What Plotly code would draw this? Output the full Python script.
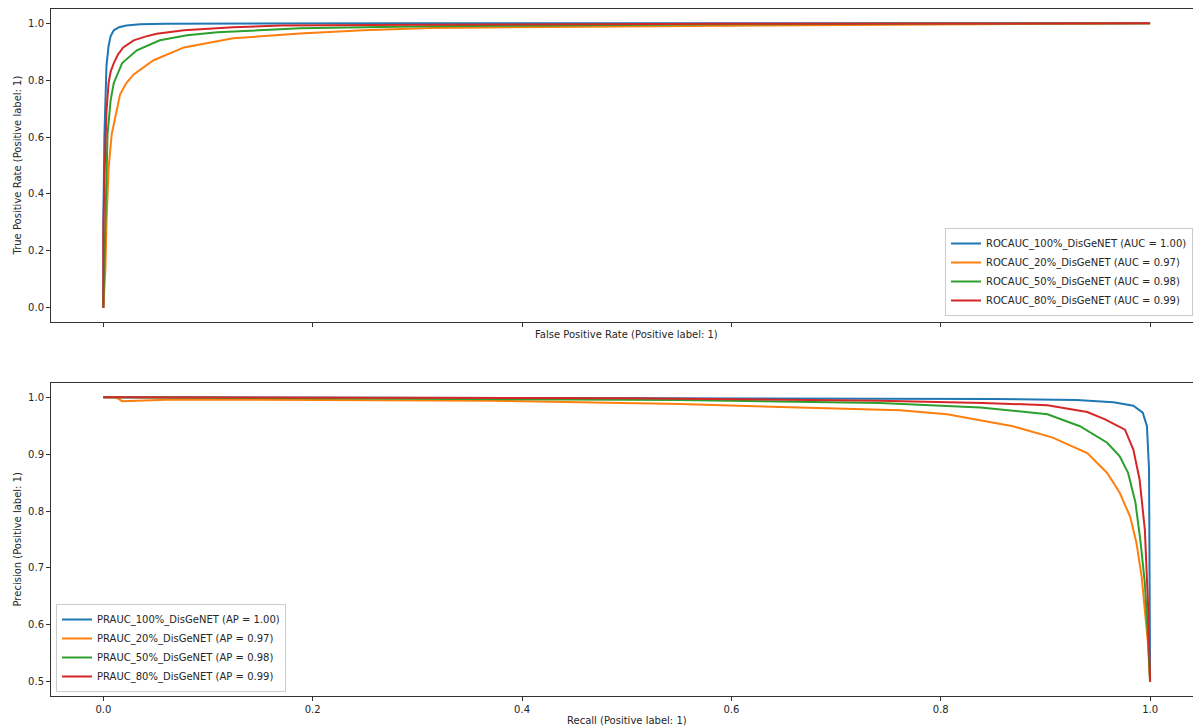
import plotly.graph_objects as go

# ---- ROC curves (false positive rate, true positive rate) ----
roc_100_fpr = [0, 0, 0.001, 0.002, 0.003, 0.005, 0.007, 0.010, 0.015, 0.022, 0.035, 0.06, 0.12, 0.3, 1.0]
roc_100_tpr = [0, 0.30, 0.60, 0.75, 0.85, 0.92, 0.955, 0.975, 0.986, 0.992, 0.996, 0.998, 0.999, 1.0, 1.0]

roc_20_fpr = [0, 0.002, 0.003, 0.004, 0.005, 0.008, 0.016, 0.022, 0.029, 0.048, 0.077, 0.124, 0.188,
              0.248, 0.312, 0.424, 0.551, 0.7, 0.85, 1.0]
roc_20_tpr = [0, 0.14, 0.30, 0.377, 0.49, 0.61, 0.75, 0.79, 0.82, 0.87, 0.915, 0.947, 0.964,
              0.975, 0.983, 0.987, 0.990, 0.995, 0.998, 1.0]

roc_50_fpr = [0, 0.001, 0.003, 0.004, 0.007, 0.010, 0.018, 0.032, 0.054, 0.08, 0.109, 0.188, 0.31,
              0.45, 0.6, 0.8, 1.0]
roc_50_tpr = [0, 0.15, 0.377, 0.61, 0.73, 0.79, 0.86, 0.905, 0.94, 0.958, 0.968, 0.982, 0.989,
              0.993, 0.996, 0.999, 1.0]

roc_80_fpr = [0, 0, 0.001, 0.003, 0.005, 0.007, 0.010, 0.014, 0.019, 0.029, 0.04, 0.051, 0.077,
              0.124, 0.17, 0.3, 0.6, 1.0]
roc_80_tpr = [0, 0.26, 0.45, 0.69, 0.79, 0.83, 0.86, 0.89, 0.915, 0.94, 0.953, 0.963, 0.975,
              0.986, 0.992, 0.995, 0.998, 1.0]

# ---- Precision-recall curves (recall, precision) ----
pr_100_rec = [0, 0.3, 0.6, 0.85, 0.93, 0.965, 0.984, 0.993, 0.997, 0.999, 1.0]
pr_100_prec = [1.0, 0.999, 0.998, 0.997, 0.995, 0.991, 0.985, 0.973, 0.949, 0.873, 0.5]

pr_20_rec = [0, 0.012, 0.018, 0.067, 0.21, 0.37, 0.551, 0.678, 0.761, 0.806, 0.869, 0.907, 0.94,
             0.959, 0.971, 0.981, 0.987, 0.992, 0.995, 0.998, 1.0]
pr_20_prec = [1.0, 1.0, 0.993, 0.996, 0.995, 0.994, 0.988, 0.981, 0.977, 0.970, 0.949, 0.929, 0.902,
              0.867, 0.832, 0.790, 0.744, 0.684, 0.625, 0.567, 0.5]

pr_50_rec = [0, 0.2, 0.4, 0.55, 0.742, 0.838, 0.902, 0.933, 0.959, 0.971, 0.979, 0.986, 0.991,
             0.995, 0.998, 1.0]
pr_50_prec = [1.0, 0.998, 0.996, 0.995, 0.990, 0.982, 0.970, 0.949, 0.920, 0.896, 0.867, 0.815, 0.744,
              0.673, 0.578, 0.5]

pr_80_rec = [0, 0.3, 0.5, 0.742, 0.84, 0.902, 0.94, 0.957, 0.976, 0.984, 0.99, 0.995, 0.998, 1.0]
pr_80_prec = [1.0, 0.999, 0.998, 0.994, 0.990, 0.986, 0.974, 0.961, 0.943, 0.908, 0.855, 0.767, 0.637, 0.5]

roc_names = ["ROCAUC_100%_DisGeNET (AUC = 1.00)", "ROCAUC_20%_DisGeNET (AUC = 0.97)",
             "ROCAUC_50%_DisGeNET (AUC = 0.98)", "ROCAUC_80%_DisGeNET (AUC = 0.99)"]
pr_names = ["PRAUC_100%_DisGeNET (AP = 1.00)", "PRAUC_20%_DisGeNET (AP = 0.97)",
            "PRAUC_50%_DisGeNET (AP = 0.98)", "PRAUC_80%_DisGeNET (AP = 0.99)"]
colors = ["#1f77b4", "#ff7f0e", "#2ca02c", "#d62728"]

roc_curves = [(roc_100_fpr, roc_100_tpr), (roc_20_fpr, roc_20_tpr),
              (roc_50_fpr, roc_50_tpr), (roc_80_fpr, roc_80_tpr)]
pr_curves = [(pr_100_rec, pr_100_prec), (pr_20_rec, pr_20_prec),
             (pr_50_rec, pr_50_prec), (pr_80_rec, pr_80_prec)]

FONT = "DejaVu Sans"
TXT = "#262626"

fig = go.Figure()
for (x, y), name, c in zip(roc_curves, roc_names, colors):
    fig.add_trace(go.Scatter(x=x, y=y, mode="lines", name=name, line=dict(color=c, width=2),
                             xaxis="x", yaxis="y", legend="legend"))
for (x, y), name, c in zip(pr_curves, pr_names, colors):
    fig.add_trace(go.Scatter(x=x, y=y, mode="lines", name=name, line=dict(color=c, width=2),
                             xaxis="x2", yaxis="y2", legend="legend2"))

W, H = 1193, 727
L = 51
top_dom = [1 - 322 / H, 1 - 9 / H]
bot_dom = [1 - 696 / H, 1 - 383 / H]
xr = [-0.05, 1.041]

axis_common = dict(showgrid=False, zeroline=False, showline=True, linecolor="#333333", linewidth=1,
                   ticks="outside", ticklen=4, tickwidth=1, tickcolor="#333333",
                   tickfont=dict(family=FONT, size=10, color=TXT))

fig.update_layout(
    width=W, height=H,
    margin=dict(l=L, r=0, t=0, b=0),
    paper_bgcolor="white", plot_bgcolor="white",
    font=dict(family=FONT, size=10, color=TXT),
    xaxis=dict(axis_common, domain=[0, 1], anchor="y", range=xr, tickvals=[0, 0.2, 0.4, 0.6, 0.8, 1.0],
               showticklabels=False, mirror=True),
    yaxis=dict(axis_common, domain=top_dom, anchor="x", range=[-0.05, 1.05],
               tickvals=[0, 0.2, 0.4, 0.6, 0.8, 1.0], tickformat=".1f"),
    xaxis2=dict(axis_common, domain=[0, 1], anchor="y2", range=xr, tickvals=[0, 0.2, 0.4, 0.6, 0.8, 1.0],
                tickformat=".1f", mirror=True),
    yaxis2=dict(axis_common, domain=bot_dom, anchor="x2", range=[0.475, 1.025],
                tickvals=[0.5, 0.6, 0.7, 0.8, 0.9, 1.0], tickformat=".1f"),
    legend=dict(x=1.0, xanchor="right", y=1 - 316 / H, yanchor="bottom",
                bgcolor="rgba(255,255,255,0.8)", bordercolor="#cccccc", borderwidth=1,
                font=dict(family=FONT, size=10, color=TXT), tracegroupgap=0, itemwidth=30),
    legend2=dict(x=(56 - L) / (W - L), xanchor="left", y=1 - 692 / H, yanchor="bottom",
                 bgcolor="rgba(255,255,255,0.8)", bordercolor="#cccccc", borderwidth=1,
                 font=dict(family=FONT, size=10, color=TXT), tracegroupgap=0, itemwidth=30),
    showlegend=True,
)

# axis titles
fig.add_annotation(text="False Positive Rate (Positive label: 1)", xref="x", yref="paper",
                   x=0.5, y=1 - 334 / H, showarrow=False, xanchor="center", yanchor="middle",
                   font=dict(family=FONT, size=10, color=TXT))
fig.add_annotation(text="Recall (Positive label: 1)", xref="x2", yref="paper",
                   x=0.5, y=1 - 720 / H, showarrow=False, xanchor="center", yanchor="middle",
                   font=dict(family=FONT, size=10, color=TXT))
fig.add_annotation(text="True Positive Rate (Positive label: 1)", xref="paper", yref="y",
                   x=(17 - L) / (W - L), y=0.5, showarrow=False, textangle=-90,
                   xanchor="center", yanchor="middle", font=dict(family=FONT, size=10, color=TXT))
fig.add_annotation(text="Precision (Positive label: 1)", xref="paper", yref="y2",
                   x=(17 - L) / (W - L), y=0.75, showarrow=False, textangle=-90,
                   xanchor="center", yanchor="middle", font=dict(family=FONT, size=10, color=TXT))

fig.write_html("out.html")
